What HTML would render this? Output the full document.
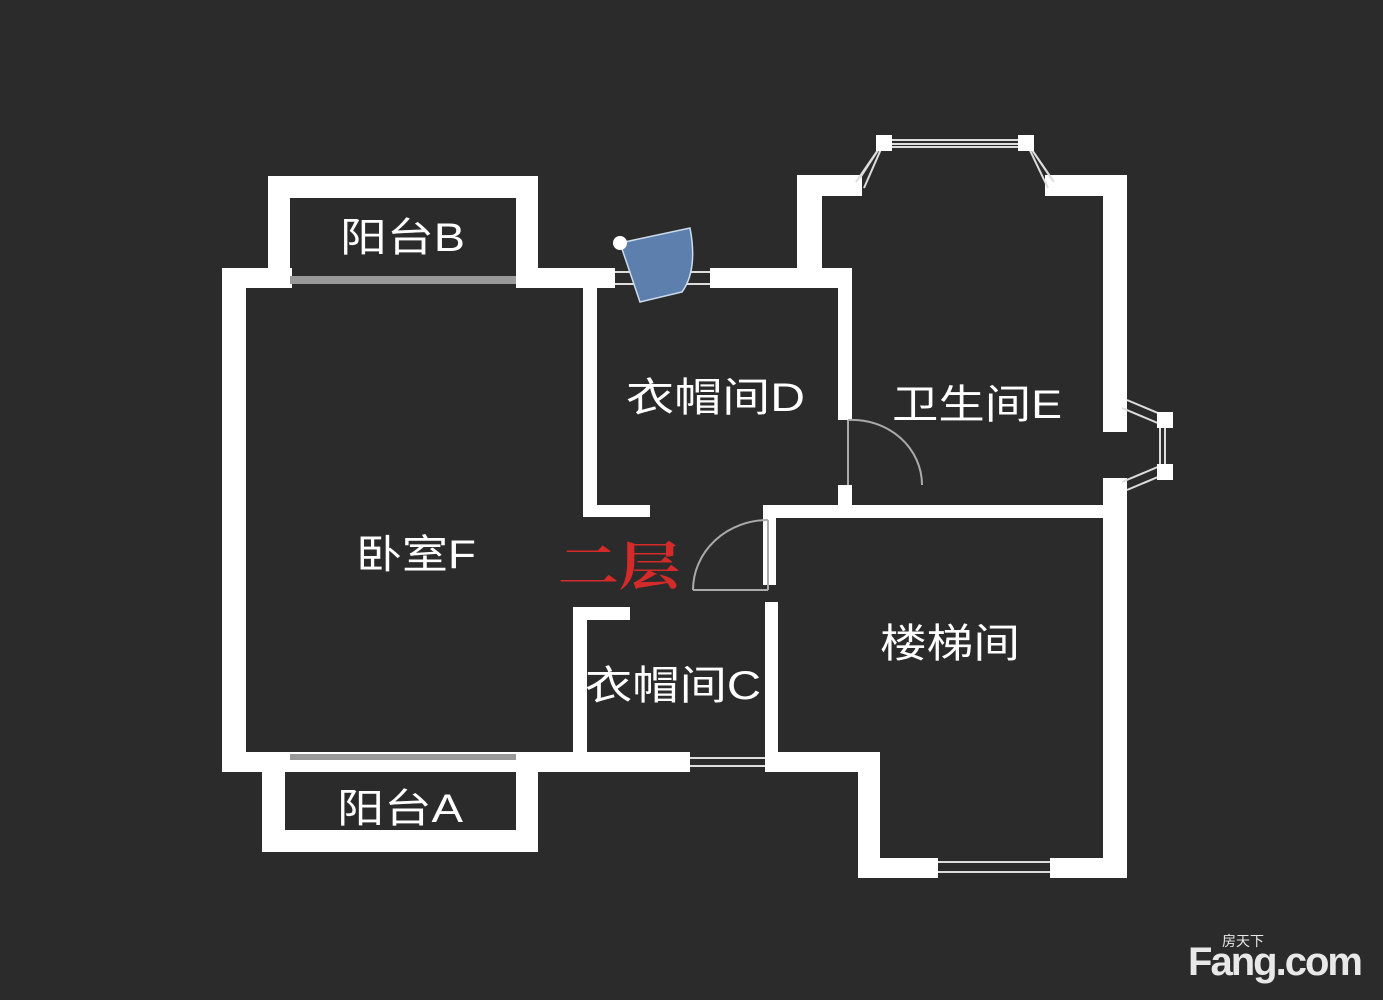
<!DOCTYPE html>
<html><head><meta charset="utf-8"><style>
html,body{margin:0;padding:0;background:#2b2b2b;}
svg{display:block}
text{font-family:"Liberation Sans","Noto Sans CJK SC",sans-serif;fill:#fff;}
</style></head><body>
<svg width="1383" height="1000" viewBox="0 0 1383 1000">
<rect width="1383" height="1000" fill="#2b2b2b"/>
<g fill="#fff">
<rect x="222" y="268" width="24" height="504"/>
<rect x="222" y="268" width="70" height="20"/>
<rect x="516" y="268" width="99" height="20"/>
<rect x="710" y="268" width="142" height="20"/>
<rect x="222" y="752" width="468" height="20"/>
<rect x="268" y="176" width="270" height="22"/>
<rect x="268" y="176" width="22" height="100"/>
<rect x="516" y="176" width="22" height="100"/>
<rect x="262" y="752" width="23" height="100"/>
<rect x="516" y="752" width="22" height="100"/>
<rect x="262" y="830" width="276" height="22"/>
<rect x="583" y="288" width="14" height="229"/>
<rect x="583" y="505" width="67" height="12"/>
<rect x="573" y="607" width="14" height="150"/>
<rect x="573" y="607" width="57" height="13"/>
<rect x="838" y="270" width="14" height="150"/>
<rect x="838" y="485" width="14" height="33"/>
<rect x="797" y="175" width="25" height="100"/>
<rect x="797" y="175" width="65" height="21"/>
<rect x="1045" y="175" width="82" height="21"/>
<rect x="1103" y="175" width="24" height="257"/>
<rect x="1103" y="478" width="24" height="400"/>
<rect x="765" y="505" width="362" height="13"/>
<rect x="763" y="505" width="13" height="80"/>
<rect x="765" y="602" width="13" height="170"/>
<rect x="765" y="752" width="115" height="20"/>
<rect x="858" y="752" width="22" height="126"/>
<rect x="858" y="858" width="80" height="20"/>
<rect x="1050" y="858" width="77" height="20"/>
</g>
<g stroke="#ddd" stroke-width="2" fill="none">
<line x1="290" y1="280" x2="516" y2="280" stroke="#999" stroke-width="8"/>
<line x1="290" y1="757" x2="516" y2="757" stroke="#999" stroke-width="6"/>
<line x1="615" y1="272" x2="710" y2="272"/><line x1="615" y1="284" x2="710" y2="284"/>
<line x1="690" y1="758" x2="765" y2="758"/><line x1="690" y1="766" x2="765" y2="766"/>
<line x1="938" y1="862" x2="1050" y2="862"/><line x1="938" y1="872" x2="1050" y2="872"/>
<polyline points="864,188 885,140 1025,140 1048,188"/>
<polyline points="856,182 880,147 1030,147 1054,182"/>
<polyline points="860,178 882,144 1028,144 1051,178"/>
<polyline points="1127,400 1165,416 1165,474 1127,490"/>
<polyline points="1122,408 1160,424 1160,466 1122,482"/>
</g>
<g fill="#fff"><rect x="876" y="135" width="16" height="16"/><rect x="1018" y="135" width="16" height="16"/>
<rect x="1157" y="412" width="16" height="16"/><rect x="1157" y="464" width="16" height="16"/></g>
<g stroke="#aaa" stroke-width="2" fill="none">
<line x1="848" y1="420" x2="848" y2="485"/>
<path d="M848 420 A70 65 0 0 1 922 485"/>
<line x1="768" y1="520" x2="768" y2="590"/>
<line x1="693" y1="590" x2="768" y2="590"/>
<path d="M693 590 A75 70 0 0 1 768 520"/>
</g>
<path d="M620 243 L690 228 Q698 270 682 292 L640 302 Z" fill="#5d7fae" stroke="#cde" stroke-width="1.5"/>
<circle cx="620" cy="243" r="7" fill="#fff"/>
<g font-size="40">
<text x="340" y="251" textLength="125" lengthAdjust="spacingAndGlyphs">阳台B</text>
<text x="337" y="822" textLength="126" lengthAdjust="spacingAndGlyphs">阳台A</text>
<text x="356" y="568" textLength="120" lengthAdjust="spacingAndGlyphs">卧室F</text>
<text x="626" y="411" textLength="179" lengthAdjust="spacingAndGlyphs">衣帽间D</text>
<text x="892" y="418" textLength="170" lengthAdjust="spacingAndGlyphs">卫生间E</text>
<text x="585" y="699" textLength="176" lengthAdjust="spacingAndGlyphs">衣帽间C</text>
<text x="880" y="657" textLength="140" lengthAdjust="spacingAndGlyphs">楼梯间</text>
</g>
<text x="558" y="585" font-size="52" font-weight="bold" textLength="122" lengthAdjust="spacingAndGlyphs" style="fill:#d42a2a;font-family:'Noto Serif CJK SC',serif">二层</text>
<text x="1188" y="975" font-size="40" font-weight="bold" textLength="175" style="fill:#e8e8e8">Fang.com</text>
<text x="1222" y="946" font-size="14" style="fill:#e8e8e8">房天下</text>
</svg>
</body></html>
